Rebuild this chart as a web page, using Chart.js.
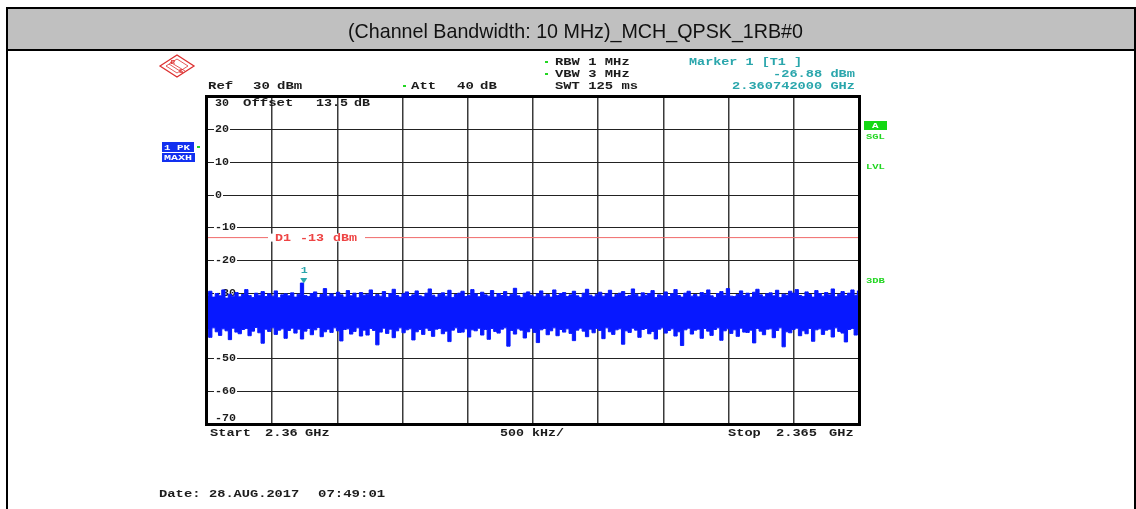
<!DOCTYPE html>
<html>
<head>
<meta charset="utf-8">
<script src="https://cdn.jsdelivr.net/npm/chart.js@4.4.1/dist/chart.umd.min.js"></script>
<style>
  html, body { margin: 0; padding: 0; background: #fff; }
  #wrap { position: relative; width: 1136px; height: 509px; }
  canvas { display: block; }
</style>
</head>
<body>
<div id="wrap"><canvas id="c" width="1136" height="509"></canvas></div>
<script>
// ---------------- data ----------------
const chartTitle = '(Channel Bandwidth: 10 MHz)_MCH_QPSK_1RB#0';
const sweepStartMHz = 2360;
const sweepStopMHz = 2365;
const xGridStepMHz = 0.5;
const yTicks = [30, 20, 10, 0, -10, -20, -30, -40, -50, -60, -70];
const yTickLabels = ['30', '20', '10', '0', '-10', '-20', '-30', '-40', '-50', '-60', '-70'];
const displayLineLevel = -13;
const displayLineLabel = ['D1', '-13', 'dBm'];
const markerFreqMHz = 2360.742;
const markerLevel = -26.88;

// max-hold trace: upper and lower envelope of the noise band (dBm), sweep order
const traceUpper = [
-30.6,-29.4,-31.2,-30.1,-30.8,-29.0,-31.5,-30.3,-30.9,-29.8,
-31.1,-30.4,-28.9,-30.7,-31.3,-30.0,-30.6,-29.5,-31.0,-30.2,
-30.9,-29.3,-31.4,-30.5,-30.2,-30.8,-29.9,-31.2,-30.3,-26.9,
-30.7,-31.0,-30.1,-29.6,-31.3,-30.4,-28.6,-30.9,-30.2,-31.1,
-29.7,-30.5,-31.2,-29.2,-30.8,-30.0,-31.4,-29.8,-30.6,-30.3,
-29.0,-31.0,-30.4,-30.9,-29.5,-31.3,-30.1,-28.8,-30.7,-31.2,
-30.2,-29.6,-31.0,-30.5,-29.3,-30.8,-31.1,-30.0,-28.7,-30.6,
-31.2,-30.3,-29.9,-30.9,-29.1,-31.3,-30.4,-30.0,-29.4,-31.0,
-30.6,-28.9,-30.2,-31.1,-29.7,-30.5,-30.9,-29.2,-31.2,-30.1,
-30.7,-29.5,-31.0,-30.3,-28.5,-30.8,-31.3,-30.0,-29.6,-30.6,
-31.1,-30.2,-29.3,-30.9,-30.4,-31.2,-29.0,-30.7,-30.1,-29.8,
-31.0,-30.5,-29.4,-30.8,-31.3,-30.0,-28.8,-30.6,-31.1,-30.3,
-29.7,-30.9,-30.2,-29.1,-31.2,-30.4,-30.0,-29.5,-31.0,-30.7,
-28.7,-30.3,-31.1,-29.9,-30.6,-30.1,-29.2,-31.3,-30.5,-30.8,
-29.6,-31.0,-30.2,-28.9,-30.7,-31.2,-30.0,-29.4,-30.9,-30.4,
-31.1,-29.8,-30.3,-29.0,-30.8,-31.3,-30.1,-29.5,-30.6,-28.6,
-30.9,-31.0,-30.4,-29.3,-30.7,-30.0,-31.2,-29.7,-28.8,-30.5,
-31.1,-30.2,-29.9,-30.8,-29.1,-31.3,-30.3,-30.6,-29.4,-30.0,
-28.9,-30.7,-31.0,-29.6,-30.4,-31.2,-29.2,-30.1,-30.9,-29.8,
-30.5,-28.7,-31.1,-30.3,-29.5,-30.8,-30.0,-29.0,-30.6,-29.3
];
const traceLower = [
-41.2,-43.5,-40.6,-41.8,-42.9,-40.9,-41.5,-44.2,-40.7,-41.9,
-42.4,-41.1,-40.8,-43.0,-41.6,-40.5,-42.1,-45.3,-41.0,-41.7,
-40.6,-42.6,-41.3,-40.9,-43.8,-41.4,-40.7,-42.2,-41.0,-44.0,
-41.6,-40.8,-42.7,-41.2,-40.5,-43.3,-41.8,-41.0,-42.0,-40.6,
-41.5,-44.6,-41.1,-40.9,-42.5,-41.7,-40.6,-43.1,-41.3,-42.8,
-40.8,-41.4,-45.8,-41.9,-40.7,-42.3,-41.0,-43.6,-41.5,-40.6,
-42.1,-41.2,-40.9,-44.3,-41.8,-41.1,-42.6,-40.7,-41.4,-43.2,
-41.0,-40.8,-42.4,-41.6,-44.8,-41.3,-40.6,-42.0,-41.9,-40.9,
-43.4,-41.2,-41.5,-40.7,-42.8,-41.1,-44.1,-40.8,-41.7,-42.2,
-41.0,-40.6,-46.2,-41.4,-42.5,-40.9,-41.3,-43.7,-41.8,-40.7,
-42.0,-45.1,-41.2,-40.8,-42.7,-41.5,-40.6,-43.0,-41.1,-41.9,
-40.9,-42.3,-44.5,-41.3,-40.7,-41.6,-43.3,-41.0,-42.1,-40.8,
-41.4,-43.9,-40.6,-41.8,-42.6,-41.2,-40.9,-45.6,-41.5,-42.0,
-40.7,-41.3,-43.5,-41.1,-40.8,-42.4,-41.7,-44.0,-41.0,-40.6,
-42.2,-41.4,-40.9,-43.1,-41.8,-46.0,-41.2,-40.7,-42.5,-41.3,
-41.0,-43.8,-40.8,-41.6,-42.9,-41.1,-40.6,-44.4,-41.5,-40.9,
-42.3,-41.2,-43.2,-40.7,-41.9,-42.0,-41.3,-45.2,-40.8,-41.6,
-42.7,-41.0,-40.9,-43.6,-41.4,-40.6,-46.4,-41.8,-42.1,-41.1,
-40.7,-43.0,-41.5,-42.4,-40.8,-44.7,-41.2,-40.9,-42.6,-41.3,
-41.0,-43.4,-40.6,-41.7,-42.2,-44.9,-41.1,-40.8,-42.8,-41.5
];

// ---------------- build datasets ----------------
const nPts = traceUpper.length;
const sweepX = traceUpper.map((_, i) => sweepStartMHz + i * (sweepStopMHz - sweepStartMHz) / (nPts - 1));
const upperPts = traceUpper.map((v, i) => ({ x: sweepX[i], y: v }));
const lowerPts = traceLower.map((v, i) => ({ x: sweepX[i], y: v }));
const d1Pts = [{ x: sweepStartMHz, y: displayLineLevel }, { x: sweepStopMHz, y: displayLineLevel }];

const TRACE_BLUE = '#0718ff';
const TEAL = '#2aa6ac';
const GREEN = '#22d622';
const RED = '#ee4444';
const INK = '#1c1c1c';

function mono(ctx, s, x, y, color, cw, size, bold) {
  ctx.save();
  ctx.font = (bold === false ? '' : 'bold ') + (size || 10) + 'px "Liberation Mono", "DejaVu Sans Mono", monospace';
  const natural = ctx.measureText('M').width;
  const sx = (cw || 8.3) / natural;
  ctx.translate(x, y);
  ctx.scale(sx, 1);
  ctx.fillStyle = color;
  ctx.textBaseline = 'middle';
  ctx.textAlign = 'left';
  ctx.fillText(s, 0, 0);
  ctx.restore();
  return s.length * (cw || 8.3);
}

const decor = {
  id: 'decor',
  beforeDraw(chart) {
    const ctx = chart.ctx;
    const W = chart.width, H = chart.height;
    ctx.save();
    ctx.fillStyle = '#fff';
    ctx.fillRect(0, 0, W, H);
    // header box
    ctx.fillStyle = '#c0c0c0';
    ctx.fillRect(7, 9, W - 7, 41);
    ctx.fillStyle = '#000';
    ctx.fillRect(6, 7, W - 6, 2);     // top line
    ctx.fillRect(6, 49, W - 6, 2);    // header bottom
    ctx.fillRect(6, 7, 2, H - 7);     // left line
    ctx.fillRect(W - 2, 7, 2, H - 7); // right line
    // title
    ctx.font = '21px "Liberation Sans Narrow", "Liberation Sans", Arial, sans-serif';
    const tw = ctx.measureText(chartTitle).width;
    const sx = 455 / tw;
    ctx.save();
    ctx.translate(575.5, 32);
    ctx.scale(sx, 1);
    ctx.fillStyle = '#111';
    ctx.textAlign = 'center';
    ctx.textBaseline = 'middle';
    ctx.fillText(chartTitle, 0, 0);
    ctx.restore();

    // R&S logo
    ctx.strokeStyle = '#dd3030';
    ctx.lineWidth = 1.3;
    ctx.beginPath();
    ctx.moveTo(160, 66); ctx.lineTo(177, 55); ctx.lineTo(194, 66); ctx.lineTo(177, 77); ctx.closePath();
    ctx.stroke();
    ctx.lineWidth = 0.8;
    ctx.beginPath();
    ctx.moveTo(166, 66); ctx.lineTo(177, 59); ctx.lineTo(188, 66); ctx.lineTo(177, 73); ctx.closePath();
    ctx.stroke();
    ctx.beginPath();
    ctx.moveTo(170, 62); ctx.lineTo(185, 71);
    ctx.moveTo(169, 64); ctx.lineTo(183, 73);
    ctx.stroke();
    ctx.fillStyle = '#dd3030';
    ctx.font = 'bold 6px "Liberation Sans", sans-serif';
    ctx.textAlign = 'center'; ctx.textBaseline = 'middle';
    ctx.fillText('R', 173, 62);
    ctx.fillText('S', 181, 71);

    // header texts
    const dot = (x, y) => { ctx.fillStyle = GREEN; ctx.fillRect(x, y - 1, 3, 2); };
    mono(ctx, 'Ref', 208, 86, INK, 8.4);
    mono(ctx, '30', 253, 86, INK, 8.4);
    mono(ctx, 'dBm', 277, 86, INK, 8.4);
    dot(403, 86);
    mono(ctx, 'Att', 411, 86, INK, 8.4);
    mono(ctx, '40', 457, 86, INK, 8.4);
    mono(ctx, 'dB', 480, 86, INK, 8.4);
    dot(545, 62);
    mono(ctx, 'RBW 1 MHz', 555, 62, INK, 8.3);
    dot(545, 74);
    mono(ctx, 'VBW 3 MHz', 555, 74, INK, 8.3);
    mono(ctx, 'SWT 125 ms', 555, 86, INK, 8.3);
    mono(ctx, 'Marker 1 [T1 ]', 689, 62, TEAL, 8.07);
    mono(ctx, markerLevel.toFixed(2) + ' dBm', 773, 74, TEAL, 8.2);
    mono(ctx, (markerFreqMHz / 1000).toFixed(9) + ' GHz', 732, 86, TEAL, 8.2);

    // left status boxes
    ctx.fillStyle = '#1230f0';
    ctx.fillRect(162, 142, 32, 10);
    ctx.fillRect(162, 153, 33, 9);
    mono(ctx, '1 PK', 164, 147.5, '#fff', 6.5, 8);
    mono(ctx, 'MAXH', 164, 158, '#fff', 7, 8);
    ctx.fillStyle = GREEN;
    ctx.fillRect(197, 146, 3, 2);

    // right status
    ctx.fillStyle = '#14d814';
    ctx.fillRect(864, 121, 23, 9);
    mono(ctx, 'A', 872, 126, '#fff', 6.5, 8);
    mono(ctx, 'SGL', 866, 137, GREEN, 6.3, 8);
    mono(ctx, 'LVL', 866, 167, GREEN, 6.3, 8);
    mono(ctx, '3DB', 866, 281, GREEN, 6.3, 8);

    // bottom texts
    mono(ctx, 'Start', 210, 433, INK, 8.2);
    mono(ctx, (sweepStartMHz / 1000).toFixed(2), 265, 433, INK, 8.2);
    mono(ctx, 'GHz', 305, 433, INK, 8.2);
    mono(ctx, (xGridStepMHz * 1000) + ' kHz/', 500, 433, INK, 8.0);
    mono(ctx, 'Stop', 728, 433, INK, 8.2);
    mono(ctx, (sweepStopMHz / 1000).toFixed(3), 776, 433, INK, 8.2);
    mono(ctx, 'GHz', 829, 433, INK, 8.2);
    mono(ctx, 'Date:', 159, 494, INK, 8.3);
    mono(ctx, '28.AUG.2017', 209, 494, INK, 8.2);
    mono(ctx, '07:49:01', 318, 494, INK, 8.4);
    ctx.restore();
  },
  beforeDatasetsDraw(chart) {
    const ctx = chart.ctx;
    const ys = chart.scales.y;
    ctx.save();
    yTicks.forEach((v, i) => {
      let y = ys.getPixelForValue(v);
      const txt = yTickLabels[i];
      if (i === 0) y += 6;
      else if (i === yTicks.length - 1) y -= 6;
      else {
        ctx.fillStyle = '#fff';
        ctx.fillRect(214, y - 3, txt.length * 7 + 2, 6);
      }
      mono(ctx, txt, 215, y, INK, 7, 10);
    });
    mono(ctx, 'Offset', 243, 103, INK, 8.4);
    mono(ctx, '13.5', 316, 103, INK, 8.0);
    mono(ctx, 'dB', 354, 103, INK, 8.0);
    ctx.restore();
  },
  afterDatasetsDraw(chart) {
    const ctx = chart.ctx;
    const xs = chart.scales.x, ys = chart.scales.y;
    const ca = chart.chartArea;
    ctx.save();
    // D1 label
    const yd = ys.getPixelForValue(displayLineLevel);
    ctx.fillStyle = '#fff';
    ctx.fillRect(268, yd - 4, 97, 8);
    mono(ctx, displayLineLabel[0], 275, yd + 0.5, RED, 8);
    mono(ctx, displayLineLabel[1], 300, yd + 0.5, RED, 8);
    mono(ctx, displayLineLabel[2], 333, yd + 0.5, RED, 8);
    // marker
    const mx = xs.getPixelForValue(markerFreqMHz);
    const my = ys.getPixelForValue(markerLevel);
    ctx.fillStyle = TEAL;
    ctx.beginPath();
    ctx.moveTo(mx - 3.5, my - 5); ctx.lineTo(mx + 3.5, my - 5); ctx.lineTo(mx, my + 0.5); ctx.closePath();
    ctx.fill();
    mono(ctx, '1', mx - 3, my - 12, TEAL, 7, 9);
    // frame
    ctx.strokeStyle = '#000';
    ctx.lineWidth = 3;
    ctx.strokeRect(ca.left - 0.5, ca.top - 0.5, ca.right - ca.left + 1, ca.bottom - ca.top + 1);
    ctx.restore();
  }
};

new Chart(document.getElementById('c'), {
  type: 'line',
  data: {
    datasets: [
      { data: upperPts, borderColor: TRACE_BLUE, backgroundColor: TRACE_BLUE, borderWidth: 1, pointRadius: 0, fill: '+1', stepped: 'middle' },
      { data: lowerPts, borderColor: TRACE_BLUE, backgroundColor: TRACE_BLUE, borderWidth: 1, pointRadius: 0, fill: false, stepped: 'middle' },
      { data: d1Pts, borderColor: '#f06a6a', borderWidth: 1, pointRadius: 0, fill: false }
    ]
  },
  options: {
    responsive: false,
    animation: false,
    events: [],
    layout: { padding: { left: 207, top: 97, right: 277, bottom: 85 } },
    plugins: { legend: { display: false }, tooltip: { enabled: false }, title: { display: false } },
    scales: {
      x: {
        type: 'linear', min: sweepStartMHz, max: sweepStopMHz,
        ticks: { display: false, stepSize: xGridStepMHz },
        grid: { color: '#3a3a3a', lineWidth: 1.5, drawTicks: false },
        border: { display: false }
      },
      y: {
        type: 'linear', min: -70, max: 30,
        ticks: { display: false, stepSize: 10 },
        grid: { color: '#222', lineWidth: 1, drawTicks: false },
        border: { display: false }
      }
    }
  },
  plugins: [decor]
});
</script>
</body>
</html>
